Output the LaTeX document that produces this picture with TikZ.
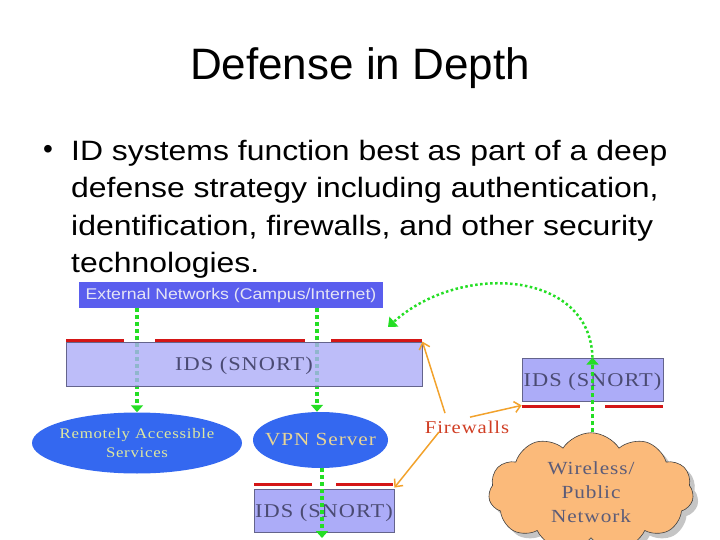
\documentclass[tikz,border=0pt]{standalone}
\usepackage{fontspec}
\setmainfont{Liberation Sans}
\newfontfamily\widefont[FakeStretch=1.14]{Liberation Sans}
\newfontfamily\diagfont[FakeStretch=1.15, LetterSpace=5]{Liberation Serif}
\usetikzlibrary{shapes.geometric,shapes.symbols,shadows,arrows.meta,backgrounds}

\definecolor{extblue}{RGB}{90,94,238}
\definecolor{exttext}{RGB}{228,228,245}
\definecolor{idsfill}{RGB}{172,172,248}
\definecolor{idsedge}{RGB}{100,100,140}
\definecolor{idstext}{RGB}{75,75,115}
\definecolor{svcblue}{RGB}{52,104,240}
\definecolor{svctext}{RGB}{222,232,160}
\definecolor{vpntext}{RGB}{230,212,150}
\definecolor{fwred}{RGB}{212,22,22}
\definecolor{fwtext}{RGB}{208,62,36}
\definecolor{fworange}{RGB}{242,162,44}
\definecolor{flowgreen}{RGB}{36,222,36}
\definecolor{cloudfill}{RGB}{251,186,122}
\definecolor{cloudtext}{RGB}{92,92,120}

\tikzset{
  idsbox/.style={draw=idsedge, line width=0.8pt, fill=idsfill, text=idstext, text depth=0pt,
    font=\diagfont\fontsize{19.5}{21}\selectfont, inner sep=0pt},
  service/.style={ellipse, fill=svcblue, inner xsep=-25pt, inner ysep=0pt,
    font=\diagfont\fontsize{14.6}{19}\selectfont},
  netflow/.style={draw=flowgreen, line width=3.5pt, dash pattern=on 4pt off 3pt,
    -{Triangle[length=7pt,width=12pt]}},
  fwline/.style={draw=fwred, line width=3pt},
  fwarrow/.style={draw=fworange, line width=1.5pt,
    -{Straight Barb[length=6pt,width=11pt]}},
}

\begin{document}
\begin{tikzpicture}[x=1pt, y=-1pt]
    \useasboundingbox (0,0) rectangle (720,540);

    % slide text
    \node[font=\fontsize{44}{48}\selectfont] (title) at (360,68) {Defense in Depth};
    \node[font=\fontsize{28}{28}\selectfont] (bullet) at (48,152) {•};
    \node[font=\widefont\fontsize{28}{37.5}\selectfont, anchor=north west, align=left, inner sep=0pt]
      (point) at (71,140) {ID systems function best as part of a deep\\
      defense strategy including authentication,\\
      identification, firewalls, and other security\\
      technologies.};

    % networks and sensors
    \node[fill=extblue, text=exttext, minimum width=304, minimum height=26, inner sep=0pt,
      font=\widefont\fontsize{15.5}{17}\selectfont] (ext) at (231,295) {External Networks (Campus/Internet)};
    \node[idsbox, fill opacity=0.8, text opacity=1, minimum width=356, minimum height=44]
      (idsMain) at (244,364) {IDS (SNORT)};
    \node[service, text=svctext, minimum width=210, minimum height=61, align=center]
      (remote) at (137,443) {Remotely Accessible\\Services};
    \node[service, text=vpntext, minimum width=135, minimum height=56,
      font=\diagfont\fontsize{18.5}{19}\selectfont] (vpn) at (320.5,440) {VPN Server};
    \node[idsbox, minimum width=140, minimum height=43] (idsVpn) at (324,510.5) {IDS (SNORT)};
    \node[idsbox, minimum width=141, minimum height=43] (idsWl) at (592.5,379.5) {IDS (SNORT)};
    \node[cloud, cloud puffs=11, cloud puff arc=115, aspect=1.8, draw=black!75, line width=0.6pt,
      fill=cloudfill, minimum width=205, minimum height=118, text=cloudtext, align=center,
      drop shadow={shadow xshift=5pt, shadow yshift=-5pt, fill=black!45},
      font=\diagfont\fontsize{18.5}{24}\selectfont] (cloud) at (591,492) {Wireless/\\Public\\Network};
    \node[text=fwtext, font=\diagfont\fontsize{18}{19}\selectfont] (fw) at (467,427) {Firewalls};

    \coordinate (inA) at (137,0);
    \coordinate (inB) at (317,0);
    \coordinate (out) at (322,538);
    \coordinate (back) at (388,327);

    % traffic
    \begin{pgfonlayer}{background}
      \draw[netflow] (ext.south -| inA) -- (remote.north -| inA);
      \draw[netflow] (ext.south -| inB) -- (vpn.north -| inB);
    \end{pgfonlayer}
    \draw[netflow] (vpn.south -| out) -- (out);
    \draw[netflow] (cloud.north -| idsWl) -- (idsWl.north);
    \draw[flowgreen, line width=2.5pt, dash pattern=on 2.5pt off 2.5pt, -{Triangle[length=8pt,width=13pt]}]
      (idsWl.north) .. controls (590,270) and (460,262) .. (back);

    % firewalls
    \draw[fwline] (66,340) -- (124,340);
    \draw[fwline] (155,340) -- (305,340);
    \draw[fwline] (331,340) -- (422,340);
    \draw[fwline] (254,484) -- (312,484);
    \draw[fwline] (336,484) -- (393,484);
    \draw[fwline] (522,406) -- (580,406);
    \draw[fwline] (605,406) -- (663,406);

    \draw[fwarrow] ([xshift=-22pt,yshift=4pt]fw.north) -- (idsMain.north east);
    \draw[fwarrow] ([xshift=3pt]fw.north) -- ([yshift=-4pt]idsWl.south west);
    \draw[fwarrow] ([xshift=-28pt,yshift=-5pt]fw.center) -- ([yshift=1pt]idsVpn.north east);
  \end{tikzpicture}
\end{document}
